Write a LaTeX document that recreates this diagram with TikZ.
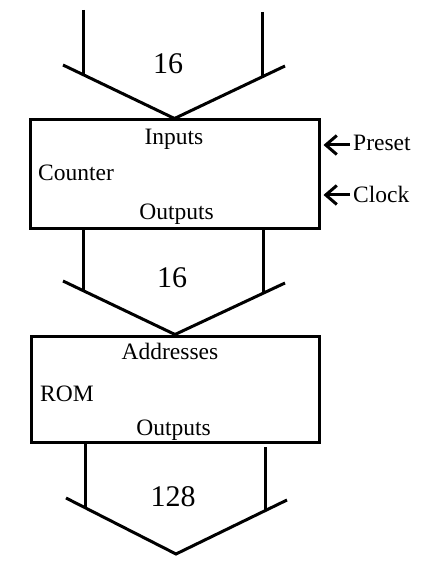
\documentclass[tikz,border=0pt]{standalone}
\usepackage{fontspec}
\setmainfont{Liberation Serif}
\usetikzlibrary{arrows.meta, positioning}

\begin{document}
\begin{tikzpicture}[
    x=1pt, y=-1pt,
    box/.style={rectangle, draw=black, line width=3pt, inner sep=0pt},
    txt/.style={font=\fontsize{23.5}{27}\selectfont, inner sep=0pt},
    width/.style={font=\fontsize{30}{34}\selectfont, inner sep=0pt},
    bus/.style={line width=3pt, line join=miter},
    ctrl/.style={-{Straight Barb[length=11pt, width=19pt, line width=3pt]}, line width=3pt, shorten <=3pt}
]
\useasboundingbox (0,0) rectangle (428,569);

\node[box, minimum width=289pt, minimum height=108pt] (counter) at (174.5,174) {};
\node[box, minimum width=288pt, minimum height=106pt] (rom) at (175,389) {};

\node[txt, anchor=base] (inputs) at (174,145) {Inputs};
\node[txt, anchor=base west] (cname) at (38,181) {Counter};
\node[txt, anchor=base] (cout) at (176.5,219) {Outputs};
\node[txt, anchor=base west] (preset) at (353,151) {Preset};
\node[txt, anchor=base west] (clock) at (353,203) {Clock};

\node[txt, anchor=base] (addr) at (170,359) {Addresses};
\node[txt, anchor=base west] (rname) at (40,401) {ROM};
\node[txt, anchor=base] (rout) at (173.5,435) {Outputs};

\node[width, anchor=base] (w1) at (168,74) {16};
\node[width, anchor=base] (w2) at (172,287) {16};
\node[width, anchor=base] (w3) at (173,506) {128};

% input bus
\coordinate (a1) at (83,10);
\coordinate (a2) at (262,12);
\coordinate (a3) at (63,65);
\coordinate (a4) at (285,66);
\draw[bus] (a1) -- (83,75);
\draw[bus] (a2) -- (262,76);
\draw[bus] (a3) -- (counter.north) -- (a4);

% counter to rom
\coordinate (b1) at (83,292);
\coordinate (b2) at (263,293);
\coordinate (b3) at (63,281);
\coordinate (b4) at (285,283);
\draw[bus] (b1 |- counter.south) -- (b1);
\draw[bus] (b2 |- counter.south) -- (b2);
\draw[bus] (b3) -- (rom.north) -- (b4);

% output bus
\coordinate (d1) at (85,509);
\coordinate (d2) at (265,511);
\coordinate (d3) at (66,498);
\coordinate (d4) at (287,500);
\coordinate (dtip) at (176,554);
\draw[bus] (d1 |- rom.south) -- (d1);
\draw[bus] (265,447) -- (d2);
\draw[bus] (d3) -- (dtip) -- (d4);

% control inputs
\draw[ctrl] (preset.west |- 0,145) -- ([xshift=3pt]counter.east |- 0,145);
\draw[ctrl] (clock.west) -- ([xshift=3pt]counter.east |- clock.west);

\end{tikzpicture}
\end{document}
